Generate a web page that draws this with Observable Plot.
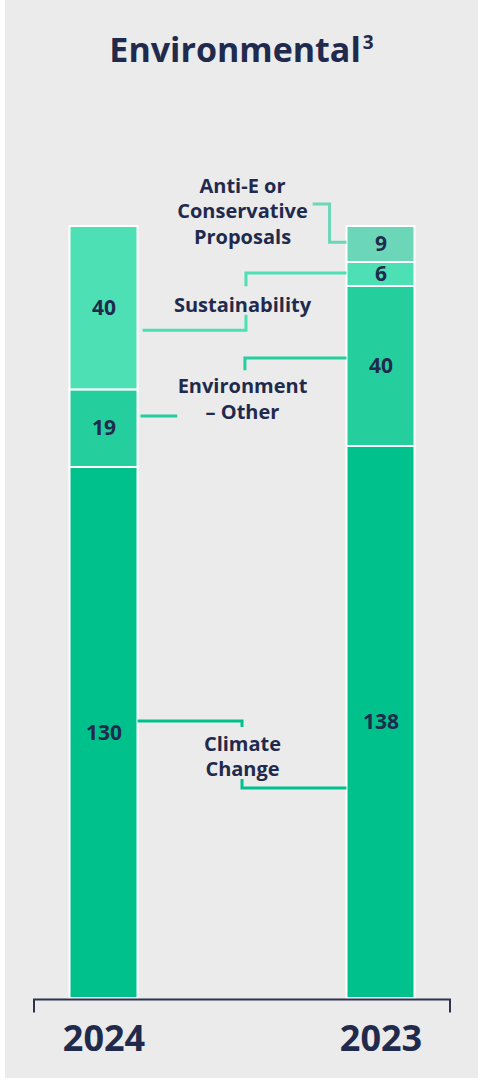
<!DOCTYPE html>
<html><head><meta charset="utf-8">
<script src="https://cdn.jsdelivr.net/npm/d3@7"></script>
<script src="https://cdn.jsdelivr.net/npm/@observablehq/plot@0.6"></script>
<style>
html,body{margin:0;padding:0;background:#fff;}
#panel{position:absolute;left:5px;top:0;width:473px;height:1078px;background:#ebebeb;overflow:hidden;font-family:"Open Sans",sans-serif;}
#title{position:absolute;left:0;top:32px;width:100%;text-align:center;font-weight:700;font-size:34px;line-height:34px;color:#1f2a4d;white-space:nowrap;}
#title sup{font-size:19px;font-weight:700;position:relative;top:-13px;vertical-align:baseline;margin-left:2px;}
#chart{position:absolute;left:0;top:0;}
</style></head>
<body>
<div id="panel"><div id="chart"></div><div id="title"></div></div>
<script>
// ---- data ----
const years = ["2024", "2023"];
const categories = ["Climate Change", "Environment – Other", "Sustainability", "Anti-E or Conservative Proposals"];
const values2024 = [130, 19, 40, null];
const values2023 = [138, 40, 6, 9];
const categoryLabels = ["Climate\nChange", "Environment\n– Other", "Sustainability", "Anti-E or\nConservative\nProposals"];
const titleText = "Environmental";
const titleNote = "3";

// ---- styles ----
const colors = ["#00c18c", "#25ce9d", "#4ee0b5", "#6cd6b8"];
const navy = "#1f2a4d";
const axisColor = "#2f3150";

// ---- annotation layout (y in normalized stack units; u: 0 = 2024 bar edge, 1 = 2023 bar edge) ----
const labelAt = [0.315, 0.778, 0.900, 1.021];
const connectors = [
  {cat: 0, pts: [[0, 0.3588], [0.5, 0.3588], [0.5, 0.351]]},
  {cat: 0, pts: [[0.5, 0.2837], [0.5, 0.272], [1, 0.272]]},
  {cat: 1, pts: [[1, 0.829], [0.514, 0.829], [0.514, 0.813]]},
  {cat: 1, pts: [[0.014, 0.754], [0.19, 0.754]]},
  {cat: 2, pts: [[1, 0.939], [0.519, 0.939], [0.519, 0.922]]},
  {cat: 2, pts: [[0.519, 0.885], [0.519, 0.865], [0.024, 0.865]]},
  {cat: 3, pts: [[0.838, 1.0285], [0.919, 1.0285], [0.919, 0.979], [1, 0.979]]}
];

const rows = [];
years.forEach((year, i) => {
  const vals = i === 0 ? values2024 : values2023;
  categories.forEach((cat, j) => { if (vals[j] != null) rows.push({year, cat, value: vals[j]}); });
});

function connectorMark(index, scales, values, dims) {
  const x = scales.x, y = scales.y;
  const bw = typeof x.bandwidth === "function" ? x.bandwidth() : x.bandwidth;
  const xL = x(years[0]) + bw, xR = x(years[1]);
  const g = d3.create("svg:g").attr("fill", "none");
  for (const c of connectors) {
    g.append("path").attr("stroke", colors[c.cat]).attr("stroke-width", 3)
      .attr("d", d3.line()(c.pts.map(([u, v]) => [xL + u * (xR - xL), y(v)])));
  }
  const y0 = y(0) + 1.5;
  g.append("path").attr("stroke", axisColor).attr("stroke-width", 2)
    .attr("d", `M${dims.marginLeft},${y0 + 13}V${y0}H${dims.width - dims.marginRight}V${y0 + 13}`);
  return g.node();
}

const plot = Plot.plot({
  width: 473, height: 1078,
  marginLeft: 29, marginRight: 28, marginTop: 0, marginBottom: 28,
  style: {background: "transparent", fontFamily: "'Open Sans', sans-serif", overflow: "visible"},
  x: {type: "band", domain: years, range: [-40, 514], paddingInner: 0.7545, paddingOuter: 0.3773, align: 0.5, round: false, axis: null},
  y: {domain: [0, 1], range: [998, 226], axis: null},
  color: {domain: categories, range: colors},
  marks: [
    Plot.barY(rows, {x: "year", y: "value", fill: "cat", order: categories, offset: "normalize", stroke: "white", strokeWidth: 2}),
    connectorMark,
    Plot.text(rows, Plot.stackY({x: "year", y: "value", z: "cat", order: categories, offset: "normalize", text: "value", fill: navy, fontSize: 21, fontWeight: 700})),
    Plot.text(categories, {y: (d, i) => labelAt[i], text: (d, i) => categoryLabels[i], frameAnchor: "middle", fill: navy, fontSize: 20, fontWeight: 700, lineHeight: 1.28}),
    Plot.text(years, {x: d => d, text: d => d, frameAnchor: "bottom", fill: navy, fontSize: 36, fontWeight: 700})
  ]
});
document.getElementById("chart").appendChild(plot);
const t = document.getElementById("title");
t.textContent = titleText;
const s = document.createElement("sup"); s.textContent = titleNote; t.appendChild(s);
</script>
</body></html>
